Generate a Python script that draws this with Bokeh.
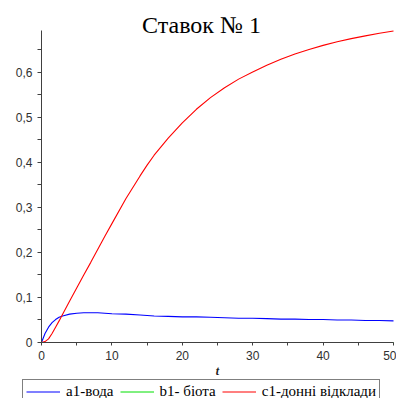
from bokeh.plotting import figure
from bokeh.models import (Range1d, FixedTicker, CustomJSTickFormatter, Label,
                          Legend, LegendItem)
from bokeh.embed import file_html
from bokeh.resources import INLINE

# ---- data ----
t = [0, 0.5, 1, 1.5, 2, 2.5, 3, 4, 5, 6, 7, 8, 9, 10, 12, 14, 15, 16, 18, 20,
     22, 24, 26, 28, 30, 32, 34, 36, 38, 40, 42, 44, 46, 48, 50]
a1 = [0, 0.020, 0.034, 0.044, 0.051, 0.056, 0.059, 0.063, 0.065, 0.066,
      0.066, 0.066, 0.065, 0.064, 0.063, 0.061, 0.060, 0.059, 0.058, 0.057,
      0.057, 0.056, 0.055, 0.054, 0.054, 0.053, 0.052, 0.052, 0.051, 0.051,
      0.050, 0.050, 0.049, 0.049, 0.048]
b1 = [0] * len(t)
c1 = [0, 0.002, 0.008, 0.020, 0.034, 0.048, 0.063, 0.092, 0.121, 0.150,
      0.178, 0.207, 0.236, 0.264, 0.320, 0.370, 0.394, 0.416, 0.454, 0.488,
      0.518, 0.544, 0.566, 0.585, 0.601, 0.616, 0.629, 0.641, 0.651, 0.660,
      0.668, 0.675, 0.681, 0.687, 0.692]

x_ticks = [0, 10, 20, 30, 40, 50]
x_minor = [5, 15, 25, 35, 45]
y_ticks = [0, 0.1, 0.2, 0.3, 0.4, 0.5, 0.6]
y_minor = [0.05, 0.15, 0.25, 0.35, 0.45, 0.55, 0.65]
x_bounds = (0, 50)
y_bounds = (0, 0.693)

title_text = "Ставок № 1"
x_label = "t"
names = ["a1-вода", "b1- біота", "c1-донні відклади"]
colors = ["#0000ff", "#00e000", "#ff0000"]

# layout: whole canvas is the frame; axes are drawn at fixed data locations
W, H = 396, 398
X0_PX, X1_PX = 41, 393      # pixel positions of x = 0 and x = 50
Y0_PX, Y1_PX = 342, 30      # pixel positions of y = 0 and y = 0.693
sx = (X1_PX - X0_PX) / (x_bounds[1] - x_bounds[0])
sy = (Y0_PX - Y1_PX) / (y_bounds[1] - y_bounds[0])
x_range = Range1d(x_bounds[0] - X0_PX / sx, x_bounds[1] + (W - X1_PX) / sx)
y_range = Range1d(y_bounds[0] - (H - Y0_PX) / sy, y_bounds[1] + Y1_PX / sy)

p = figure(width=W, height=H, output_backend="svg", toolbar_location=None,
           x_range=x_range, y_range=y_range, min_border=0)
p.outline_line_color = None
p.grid.visible = False
p.background_fill_color = "white"
p.border_fill_color = "white"

r_b = p.line(t, b1, line_color=colors[1], line_width=1)
r_a = p.line(t, a1, line_color=colors[0], line_width=1.1)
r_c = p.line(t, c1, line_color=colors[2], line_width=1.1)

axis_color = "#404040"
for ax in (p.xaxis[0], p.yaxis[0]):
    ax.fixed_location = 0
    ax.axis_line_color = axis_color
    ax.major_tick_line_color = axis_color
    ax.minor_tick_line_color = axis_color
    ax.major_tick_in = 0
    ax.minor_tick_in = 0
    ax.major_label_text_color = "#303030"
    ax.major_label_text_font = "Liberation Sans"
    ax.major_label_text_font_size = "12px"

p.xaxis.bounds = x_bounds
p.xaxis.ticker = FixedTicker(ticks=x_ticks, minor_ticks=x_minor)
p.xaxis.major_tick_out = 3
p.xaxis.minor_tick_out = 3
p.xaxis.major_label_standoff = 5
p.xaxis.axis_label = x_label
p.xaxis.axis_label_text_font = "Liberation Serif"
p.xaxis.axis_label_text_font_style = "bold italic"
p.xaxis.axis_label_text_font_size = "12px"
p.xaxis.axis_label_text_color = "#202020"
p.xaxis.axis_label_standoff = 1

p.yaxis.bounds = y_bounds
p.yaxis.ticker = FixedTicker(ticks=y_ticks, minor_ticks=y_minor)
p.yaxis.major_tick_out = 4
p.yaxis.minor_tick_out = 4
p.yaxis.major_label_standoff = 5
p.yaxis.formatter = CustomJSTickFormatter(
    code="if (Math.abs(tick) < 1e-9) { return '0'; } return tick.toFixed(1).replace('.', ',');")

title = Label(x=201, y=H - 24, x_units="screen", y_units="screen", text=title_text,
              text_align="center", text_baseline="alphabetic",
              text_font="Liberation Serif", text_font_size="24px",
              text_color="black")
p.add_layout(title)

legend = Legend(items=[LegendItem(label=names[0], renderers=[r_a]),
                       LegendItem(label=names[1], renderers=[r_b]),
                       LegendItem(label=names[2], renderers=[r_c])],
                orientation="horizontal", location=(22, -6))
legend.border_line_color = "black"
legend.border_line_width = 1
legend.background_fill_alpha = 1
legend.label_text_font = "Liberation Serif"
legend.label_text_font_size = "15px"
legend.label_text_color = "black"
legend.glyph_width = 34
legend.glyph_height = 17
legend.label_height = 17
legend.label_standoff = 6
legend.spacing = 6
legend.padding = 3
legend.margin = 0
p.add_layout(legend, "center")

open("out.html", "w").write(file_html(p, INLINE))
